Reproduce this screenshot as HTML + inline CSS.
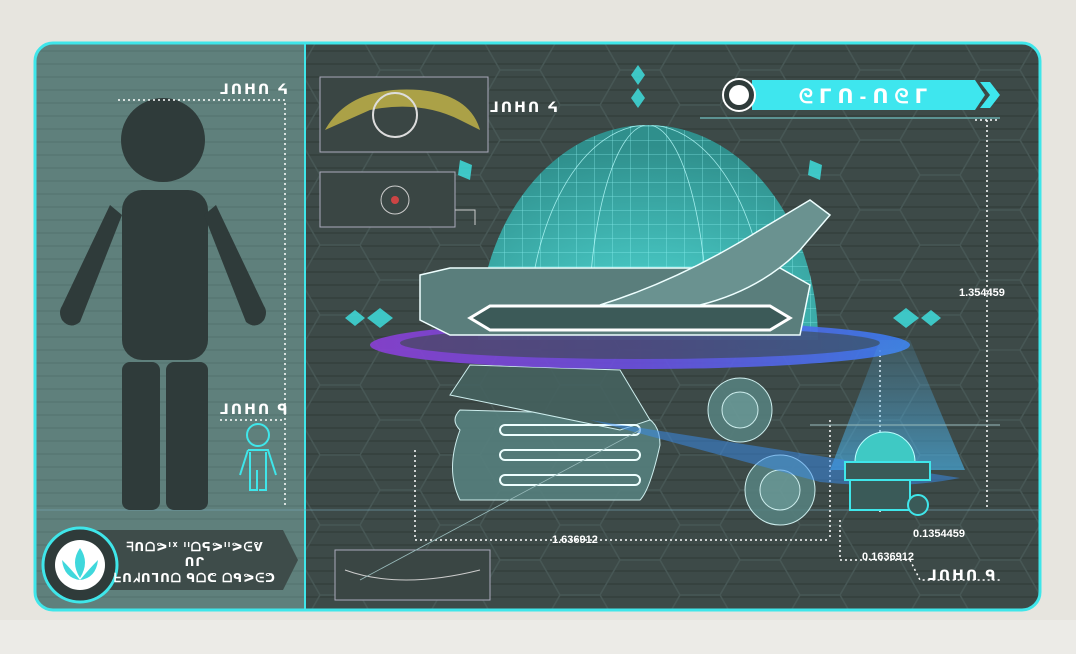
<!DOCTYPE html>
<html><head><meta charset="utf-8"><style>
html,body{margin:0;padding:0;background:#e7e5df;width:1076px;height:654px;overflow:hidden}
svg{display:block}
text{font-family:"Liberation Sans","DejaVu Sans",sans-serif;font-weight:bold}
</style></head><body>
<svg width="1076" height="654" viewBox="0 0 1076 654">
<defs>
<pattern id="hl" width="10" height="13" patternUnits="userSpaceOnUse"><rect width="10" height="13" fill="#3d4a48"/><rect y="11" width="10" height="2" fill="#36423f"/></pattern>
<pattern id="hl2" width="10" height="13" patternUnits="userSpaceOnUse"><rect width="10" height="13" fill="#5f807c"/><rect y="11" width="10" height="2" fill="#597975"/></pattern>
<pattern id="hex" width="120" height="70" patternUnits="userSpaceOnUse"><path d="M0 35 L20 0 H60 L80 35 L60 70 H20 Z M80 35 H120" fill="none" stroke="#475755" stroke-width="1.5"/></pattern>
<pattern id="grid" width="18" height="14" patternUnits="userSpaceOnUse"><path d="M0 0 H18 M0 0 V14" stroke="#9ff" stroke-width="0.8" opacity="0.7"/></pattern>
<linearGradient id="ring" x1="0" x2="1"><stop offset="0" stop-color="#8a3fd6"/><stop offset="0.5" stop-color="#6a4ee0"/><stop offset="1" stop-color="#3a7ef0"/></linearGradient>
<linearGradient id="beam" x1="0" y1="0" x2="0" y2="1"><stop offset="0" stop-color="#5ad" stop-opacity="0.2"/><stop offset="1" stop-color="#4ac0ff" stop-opacity="0.8"/></linearGradient>
<radialGradient id="domeg" cx="0.5" cy="0.9" r="0.8"><stop offset="0" stop-color="#4fd8d4"/><stop offset="1" stop-color="#2f8f8c"/></radialGradient>
<clipPath id="dome"><path d="M478 340 A170 215 0 0 1 818 340 Z"/></clipPath>
<clipPath id="panel"><rect x="35" y="43" width="1005" height="567" rx="18"/></clipPath>
</defs>
<rect x="0" y="620" width="1076" height="34" fill="#ecebe7"/>
<g clip-path="url(#panel)">
<rect x="35" y="43" width="270" height="567" fill="url(#hl2)"/>
<rect x="305" y="43" width="735" height="567" fill="url(#hl)"/>
<rect x="305" y="43" width="735" height="567" fill="url(#hex)"/>
</g>
<rect x="35" y="43" width="1005" height="567" rx="18" fill="none" stroke="#3fe6ea" stroke-width="3"/>
<line x1="305" y1="44" x2="305" y2="609" stroke="#3fe6ea" stroke-width="2"/>
<line x1="36" y1="510" x2="1040" y2="510" stroke="#7ab" stroke-width="1" opacity="0.6"/>

<g fill="#2f3b3a">
<circle cx="163" cy="140" r="42"/>
<rect x="122" y="190" width="86" height="170" rx="20"/>
<rect x="122" y="362" width="38" height="148" rx="8"/>
<rect x="166" y="362" width="42" height="148" rx="8"/>
<path d="M110 205 L122 215 L80 322 Q70 330 62 320 Q58 312 62 306 Z"/>
<path d="M216 205 L204 215 L246 322 Q256 330 264 320 Q268 312 264 306 Z"/>
</g>
<g fill="none" stroke="#3fe6ea" stroke-width="2">
<circle cx="258" cy="435" r="11"/>
<path d="M248 450 H268 L276 475 M248 450 L240 475 M250 452 V490 H257 V470 M266 452 V490 H259"/>
</g>
<g stroke="#fff" stroke-width="1.5" stroke-dasharray="2 3" fill="none">
<path d="M118 100 H285 V508"/>
<path d="M220 420 H285"/>
<path d="M415 540 H830 M415 450 V540 M830 420 V540"/>
<path d="M987 120 V510 M975 120 H1000"/>
<path d="M880 350 V515 M840 520 V560 H910 L920 580 H1000"/>
</g>
<text x="220" y="94" fill="#fff" font-size="14" letter-spacing="2">ᒧᑎᕼᑎ ᔦ</text>
<text x="220" y="414" fill="#fff" font-size="14" letter-spacing="2">ᒧᑎᕼᑎ ᑫ</text>
<text x="490" y="112" fill="#fff" font-size="14" letter-spacing="2">ᒧᑎᕼᑎ ᔦ</text>
<text x="928" y="580" fill="#fff" font-size="14" letter-spacing="2">ᒧᑎᕼᑎ ᑫ</text>
<text x="959" y="296" fill="#fff" font-size="11" font-weight="normal">1.354459</text>
<text x="552" y="543" fill="#fff" font-size="11" font-weight="normal">1.636912</text>
<text x="913" y="537" fill="#fff" font-size="11" font-weight="normal">0.1354459</text>
<text x="862" y="560" fill="#fff" font-size="11" font-weight="normal">0.1636912</text>

<path d="M95 530 H283 L298 560 L283 590 H95 Z" fill="#3e4c4a"/>
<circle cx="80" cy="565" r="37" fill="#2f3b3a" stroke="#3fe6ea" stroke-width="3"/>
<circle cx="80" cy="565" r="25" fill="#fff"/>
<path d="M80 548 Q70 562 80 578 Q90 562 80 548 Z M62 560 Q64 578 80 580 Q70 568 62 560 Z M98 560 Q96 578 80 580 Q90 568 98 560 Z" fill="#3fd8dc"/>
<text fill="#fff" font-size="12" text-anchor="middle" letter-spacing="1"><tspan x="195" y="551">ᖷᑎᗝᕗᑊᕁ ᑊᑊᗝᕋᕗᑊᑊᕗᕮᕓ</tspan><tspan x="195" y="566">ᑎᒋ</tspan><tspan x="195" y="582">ᖶᑎᖽᑎᒣᑎᗝ ᑫᗝᕦ ᗝᑫᕗᕮᕤ</tspan></text>

<g fill="#3a4644" stroke="#aab" stroke-width="1">
<rect x="320" y="77" width="168" height="75"/>
<rect x="320" y="172" width="135" height="55"/>
<rect x="335" y="550" width="155" height="50"/>
</g>
<path d="M325 130 Q350 85 420 90 Q470 95 480 130 L460 120 Q420 100 370 110 Z" fill="#c8b848" opacity="0.8"/>
<circle cx="395" cy="115" r="22" fill="none" stroke="#ddd" stroke-width="2"/>
<circle cx="395" cy="200" r="14" fill="none" stroke="#ccc"/><circle cx="395" cy="200" r="4" fill="#c44"/>
<path d="M345 570 Q400 590 480 570" stroke="#ccc" fill="none"/>
<path d="M455 210 H475 V225" stroke="#ccc" fill="none"/>

<path d="M752 80 H975 L985 95 L975 110 H752 Z" fill="#3ee6ee"/>
<path d="M980 82 H990 L1000 95 L990 108 H980 L990 95 Z" fill="#3ee6ee"/>
<circle cx="739" cy="95" r="16" fill="#2f3b3a" stroke="#fff" stroke-width="2"/>
<circle cx="739" cy="95" r="10" fill="#fff"/>
<text x="866" y="103" fill="#fff" font-size="20" text-anchor="middle" letter-spacing="6">ᘓᒥᑎ-ᑎᘓᒥ</text>
<line x1="700" y1="118" x2="1000" y2="118" stroke="#6aa" stroke-width="1.5"/>

<g fill="#3ee6e6" opacity="0.8">
<path d="M638 65 L645 75 L638 85 L631 75 Z M638 88 L645 98 L638 108 L631 98 Z"/>
<path d="M460 160 L472 165 L470 180 L458 175 Z M810 160 L822 165 L820 180 L808 175 Z"/>
<path d="M345 318 L355 310 L365 318 L355 326 Z M367 318 L380 308 L393 318 L380 328 Z"/>
<path d="M893 318 L906 308 L919 318 L906 328 Z M921 318 L931 310 L941 318 L931 326 Z"/>
</g>

<path d="M478 340 A170 215 0 0 1 818 340 Z" fill="url(#domeg)"/>
<rect x="470" y="120" width="360" height="230" fill="url(#grid)" clip-path="url(#dome)"/>
<g clip-path="url(#dome)" stroke="#bff" fill="none" stroke-width="0.8" opacity="0.8">
<ellipse cx="648" cy="340" rx="120" ry="215"/><ellipse cx="648" cy="340" rx="60" ry="215"/>
</g>
<g stroke="#dff" stroke-width="1" fill="#56807e" opacity="0.9">
<path d="M460 430 Q450 420 460 410 L640 415 Q660 420 660 445 Q650 490 640 500 L460 500 Q445 470 460 430 Z"/>
<path d="M450 395 L470 365 L620 370 L650 420 L620 430 Z" fill="#45625f"/>
<circle cx="740" cy="410" r="32"/><circle cx="740" cy="410" r="18" fill="#6a9a98"/>
<circle cx="780" cy="490" r="35"/><circle cx="780" cy="490" r="20" fill="#6a9a98"/>
</g>
<g fill="none" stroke="#eff" stroke-width="2">
<rect x="500" y="425" width="140" height="10" rx="5"/><rect x="500" y="450" width="140" height="10" rx="5"/><rect x="500" y="475" width="140" height="10" rx="5"/>
</g>
<ellipse cx="640" cy="345" rx="270" ry="24" fill="url(#ring)" opacity="0.9"/>
<ellipse cx="640" cy="343" rx="240" ry="16" fill="#3a4a48" opacity="0.6"/>
<path d="M880 340 L910 340 L965 470 L830 470 Z" fill="url(#beam)" opacity="0.7"/>
<path d="M590 420 L960 478 Q900 490 820 482 Z" fill="#3a8ef0" opacity="0.5"/>
<path d="M420 275 L450 268 H780 L810 285 L800 335 L450 335 L420 320 Z" fill="#5a7e7c" stroke="#eff" stroke-width="1.5"/>
<path d="M470 318 L490 306 H770 L790 318 L770 330 H490 Z" fill="#3c5a58" stroke="#fff" stroke-width="3"/>
<path d="M600 305 Q680 280 760 230 L810 200 L830 215 L800 250 Q760 290 700 305 Z" fill="#6a9290" stroke="#eff" stroke-width="1.5"/>
<path d="M855 462 A30 30 0 0 1 915 462 Z" fill="#3fc9c4" stroke="#bff"/>
<rect x="845" y="462" width="85" height="18" fill="#3a5a58" stroke="#3fe6ea" stroke-width="2"/>
<rect x="850" y="480" width="60" height="30" fill="#3a5a58" stroke="#3fe6ea" stroke-width="2"/>
<circle cx="918" cy="505" r="10" fill="#3a5a58" stroke="#3fe6ea" stroke-width="2"/>
<line x1="810" y1="425" x2="1000" y2="425" stroke="#9bb" stroke-width="1"/>
<line x1="360" y1="580" x2="640" y2="430" stroke="#9bb" stroke-width="0.8"/>
</svg>
</body></html>
